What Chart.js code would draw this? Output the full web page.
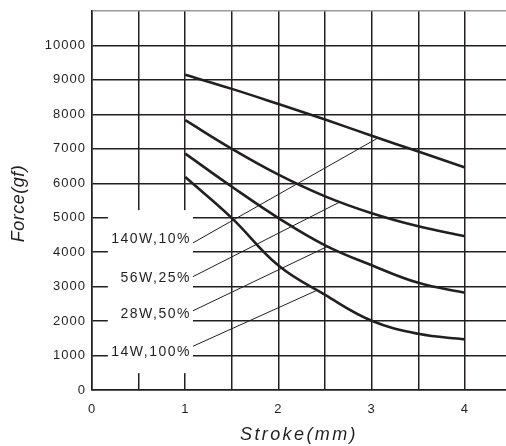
<!DOCTYPE html>
<html>
<head>
<meta charset="utf-8">
<script src="https://cdn.jsdelivr.net/npm/chart.js@4.4.1/dist/chart.umd.min.js"></script>
<style>
  html, body { margin: 0; padding: 0; background: #fff; }
  #wrap { width: 506px; height: 446px; }
</style>
</head>
<body>
<div id="wrap"><canvas id="chart"></canvas></div>
<script>
const stroke = [1, 1.5, 2, 2.5, 3, 3.5, 4];
const force140W = [9150, 8740, 8300, 7850, 7380, 6920, 6460];
const force56W = [7830, 7000, 6250, 5620, 5130, 4750, 4460];
const force28W = [6860, 5900, 4990, 4200, 3620, 3110, 2820];
const force14W = [6180, 4990, 3610, 2760, 2010, 1630, 1470];

const seriesNames = ['140W,10%', '56W,25%', '28W,50%', '14W,100%'];
const labelY = [4380, 3250, 2210, 1110];

// leader lines from the label column to a point on each curve
const leaderFromX = 1.083;
const leaderFromY = [4270, 3290, 2300, 1270];
const leaderToX = [3.07, 2.66, 2.52, 2.41];
const leaderToY = [7320, 5460, 4160, 2890];

const xTicks = [0, 0.5, 1, 1.5, 2, 2.5, 3, 3.5, 4];
const yTicks = [0, 1000, 2000, 3000, 4000, 5000, 6000, 7000, 8000, 9000, 10000, 11000];

const INK = '#231f20';
const FONT = "'Liberation Sans', Arial, sans-serif";

const toPoints = (ys) => ys.map((y, i) => ({ x: stroke[i], y }));

const curve = (values) => ({
  data: toPoints(values),
  borderColor: INK,
  borderWidth: 2.6,
  pointRadius: 0,
  tension: 0.4,
  fill: false,
});

const leader = (i) => ({
  data: [
    { x: leaderFromX, y: leaderFromY[i] },
    { x: leaderToX[i], y: leaderToY[i] },
  ],
  borderColor: INK,
  borderWidth: 1,
  pointRadius: 0,
  tension: 0,
  fill: false,
});

// white box behind the series labels, hides the grid there
const labelBox = {
  id: 'labelBox',
  beforeDraw(chart) {
    chart.ctx.letterSpacing = '1px';
  },
  beforeDatasetsDraw(chart) {
    const { ctx, scales: { x, y } } = chart;
    const left = x.getPixelForValue(0.17);
    const right = x.getPixelForValue(1.083);
    const top = y.getPixelForValue(5220);
    const bottom = y.getPixelForValue(490);
    ctx.save();
    ctx.fillStyle = '#fff';
    ctx.fillRect(left, top, right - left, bottom - top);
    ctx.restore();
  },
  afterDatasetsDraw(chart) {
    const { ctx, scales: { x, y }, chartArea } = chart;
    ctx.save();
    ctx.fillStyle = INK;
    ctx.font = `14px ${FONT}`;
    ctx.letterSpacing = '1.5px';
    ctx.textAlign = 'right';
    ctx.textBaseline = 'middle';
    seriesNames.forEach((name, i) => {
      ctx.fillText(name, x.getPixelForValue(1.04) + 2, y.getPixelForValue(labelY[i]));
    });

    // axis titles
    ctx.font = `italic 18px ${FONT}`;
    ctx.letterSpacing = '2.4px';
    ctx.textAlign = 'center';
    ctx.fillText('Stroke(mm)', (chartArea.left + chartArea.right) / 2, chartArea.bottom + 45);
    ctx.letterSpacing = '0.5px';
    ctx.translate(19, (chartArea.top + chartArea.bottom) / 2 + 3);
    ctx.rotate(-Math.PI / 2);
    ctx.fillText('Force(gf)', 0, 0);
    ctx.restore();
  },
};

new Chart(document.getElementById('chart'), {
  type: 'line',
  data: {
    datasets: [
      curve(force140W),
      curve(force56W),
      curve(force28W),
      curve(force14W),
      leader(0),
      leader(1),
      leader(2),
      leader(3),
    ],
  },
  options: {
    responsive: true,
    maintainAspectRatio: false,
    animation: false,
    layout: { padding: { top: 11, right: 0, left: 0, bottom: 0 } },
    plugins: {
      legend: { display: false },
      tooltip: { enabled: false },
    },
    scales: {
      x: {
        type: 'linear',
        min: 0,
        max: 4.44,
        afterBuildTicks: (scale) => {
          scale.ticks = xTicks.map((value) => ({ value }));
        },
        afterFit: (scale) => {
          scale.height = 56;
          scale.paddingRight = 0;
        },
        grid: {
          color: INK,
          lineWidth: 1.5,
          drawTicks: false,
        },
        border: { color: INK, width: 1.5 },
        ticks: {
          padding: 12,
          color: INK,
          font: { family: FONT, size: 13 },
          callback: (v) => (Number.isInteger(v) ? String(v) : ''),
        },
      },
      y: {
        type: 'linear',
        min: 0,
        max: 11000,
        afterBuildTicks: (scale) => {
          scale.ticks = yTicks.map((value) => ({ value }));
        },
        afterFit: (scale) => {
          scale.width = 92;
          scale.paddingTop = 0;
        },
        grid: {
          color: (ctx) => (ctx.tick && ctx.tick.value === 11000 ? '#9a9a9a' : INK),
          lineWidth: 1.5,
          drawTicks: false,
        },
        border: { color: INK, width: 1.5 },
        ticks: {
          padding: 6,
          color: INK,
          font: { family: FONT, size: 13 },
          callback: (v) => (v === 11000 ? '' : String(v)),
        },
      },
    },
  },
  plugins: [labelBox],
});
</script>
</body>
</html>
